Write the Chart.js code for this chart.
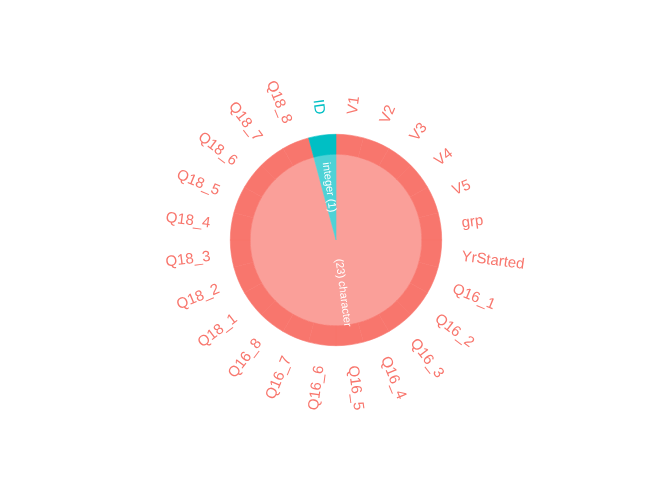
<!DOCTYPE html>
<html>
<head>
<meta charset="utf-8">
<script src="https://cdn.jsdelivr.net/npm/chart.js@4"></script>
<style>
  html, body { margin: 0; padding: 0; background: #fff; }
  #wrap { width: 672px; height: 480px; }
</style>
</head>
<body>
<div id="wrap"><canvas id="grafico"></canvas></div>
<script>
// columns, clockwise from the top
const colonne = ['V1','V2','V3','V4','V5','grp','YrStarted',
    'Q16_1','Q16_2','Q16_3','Q16_4','Q16_5','Q16_6','Q16_7','Q16_8',
    'Q18_1','Q18_2','Q18_3','Q18_4','Q18_5','Q18_6','Q18_7','Q18_8','ID']
const tipiColonne = ['character','character','character','character','character','character','character',
    'character','character','character','character','character','character','character','character',
    'character','character','character','character','character','character','character','character','integer']
const valoriColonne = [1,1,1,1,1,1,1,1,1,1,1,1,1,1,1,1,1,1,1,1,1,1,1,1]

// inner pie: count per type
const tipi = ['character','integer']
const conteggi = [23, 1]
const etichetteTipi = ['(23) character', 'integer (1)']

const coloreForte = { character: '#F8766D', integer: '#00BFC4' }
const coloreChiaro = { character: '#FA9F99', integer: '#4DD2D6' }

const etichette = {
    id: 'etichette',
    afterDatasetsDraw(chart) {
        const ctx = chart.ctx
        ctx.save()
        ctx.textBaseline = 'middle'

        // outer labels, start of the text on a fixed radius
        let meta = chart.getDatasetMeta(0)
        ctx.font = '15px "Liberation Sans", Arial, sans-serif'
        meta.data.forEach((arco, i) => {
            let mid = (arco.startAngle + arco.endAngle) / 2
            let r = arco.outerRadius + 21
            let x = arco.x + r * Math.cos(mid)
            let y = arco.y + r * Math.sin(mid)
            ctx.save()
            ctx.translate(x, y)
            if(Math.cos(mid) > 0) {
                ctx.rotate(mid)
                ctx.textAlign = 'left'
            } else {
                ctx.rotate(mid + Math.PI)
                ctx.textAlign = 'right'
            }
            ctx.fillStyle = coloreForte[tipiColonne[i]]
            ctx.fillText(colonne[i], 0, 0)
            ctx.restore()
        })

        // inner labels, white, along the radius
        meta = chart.getDatasetMeta(1)
        ctx.font = '11px "Liberation Sans", Arial, sans-serif'
        ctx.fillStyle = '#ffffff'
        meta.data.forEach((arco, i) => {
            let mid = (arco.startAngle + arco.endAngle) / 2
            let r = arco.outerRadius * 0.62
            let x = arco.x + r * Math.cos(mid)
            let y = arco.y + r * Math.sin(mid)
            ctx.save()
            ctx.translate(x, y)
            ctx.rotate(Math.cos(mid) > 0 ? mid : mid + Math.PI)
            ctx.textAlign = 'center'
            ctx.fillText(etichetteTipi[i], 0, 0)
            ctx.restore()
        })
        ctx.restore()
    }
}

let coloriAnello = tipiColonne.map(t => coloreForte[t])
let coloriTorta = tipi.map(t => coloreChiaro[t])

new Chart(document.getElementById('grafico'), {
    type: 'doughnut',
    data: {
        labels: colonne,
        datasets: [{
            label: 'colonne',
            data: valoriColonne,
            backgroundColor: coloriAnello,
            borderColor: coloriAnello,
            borderWidth: 0.6,
            borderJoinStyle: 'miter',
            weight: 20
        }, {
            label: 'tipi',
            data: conteggi,
            backgroundColor: coloriTorta,
            borderColor: coloriTorta,
            borderWidth: 0.6,
            borderJoinStyle: 'miter',
            weight: 86
        }]
    },
    options: {
        responsive: true,
        maintainAspectRatio: false,
        animation: false,
        cutout: 0,
        layout: { padding: { top: 134, bottom: 134 } },
        plugins: {
            legend: { display: false },
            tooltip: { enabled: false }
        }
    },
    plugins: [etichette]
})
</script>
</body>
</html>
